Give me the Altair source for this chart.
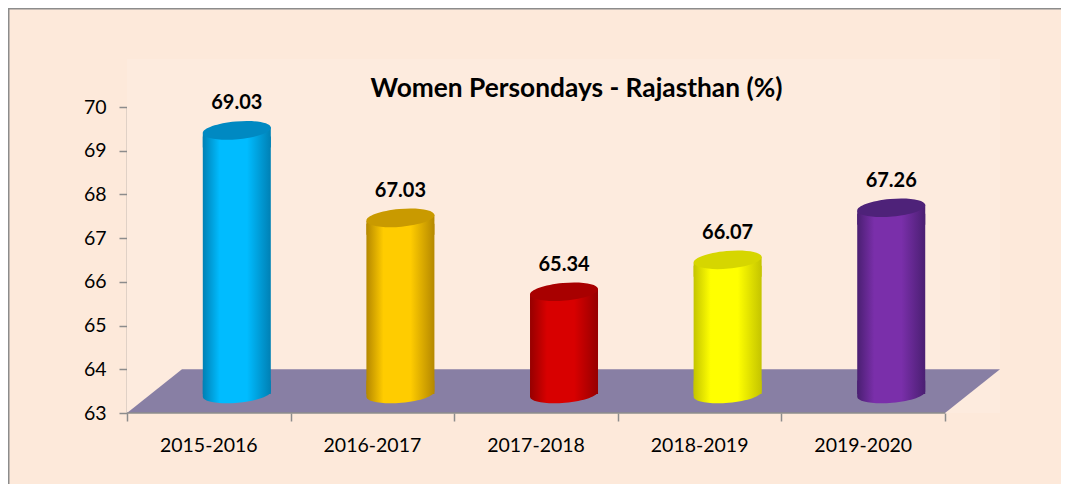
import altair as alt
import pandas as pd

years = ["2015-2016", "2016-2017", "2017-2018", "2018-2019", "2019-2020"]
values = [69.03, 67.03, 65.34, 66.07, 67.26]
positions = [0.5, 1.5, 2.5, 3.5, 4.5]
bright = ["#00BCFF", "#FFCC00", "#D80000", "#FFFF00", "#7A2FAA"]
edge = ["#0080B4", "#B58800", "#960000", "#C4C400", "#4A1F72"]
lid = ["#0089C2", "#C99A00", "#A80000", "#D6D600", "#4E2279"]

y_ticks = [63, 64, 65, 66, 67, 68, 69, 70]
x_ticks = [0, 1, 2, 3, 4, 5]
floor_x = [0, 0.336, 5, 5.336]
floor_top = [63, 64, 64, 64]
floor_bottom = [63, 63, 63, 64]
title_text = "Women Persondays - Rajasthan (%)"

BG = "#FDE9DA"
GREY = "#8C8C8C"
FONT = "Lato"
LID_SHAPE = "M-1,0.09 A1,0.26,-5,1,1,1,-0.09 A1,0.26,-5,1,1,-1,0.09 Z"
SKIRT_SHAPE = "M-1,0.09 L1,-0.09 L1,0.5 L-1,0.5 Z"
BASE_SHAPE = "M-1,-0.4 L-1,0.09 A1,0.26,-5,1,0,1,-0.09 L1,-0.4 Z"
CYL_W = 68
DEPTH_Y = -19
DEPTH_X = 28

xs = alt.Scale(domain=[0, 5.336], nice=False, zero=False, padding=0)
ys = alt.Scale(domain=[63, 70], nice=False, zero=False, padding=0)
x_axis = alt.Axis(values=x_ticks, labels=False, grid=False, domain=False, title=None,
                  tickColor=GREY, tickSize=8, tickWidth=1.5)
y_axis = alt.Axis(values=y_ticks, grid=False, domainColor=GREY, domainWidth=1.5, title=None,
                  tickColor=GREY, tickSize=8, tickWidth=1.5, labelFont=FONT,
                  labelFontSize=19.5, labelColor="#000000", labelPadding=13)
X = alt.X("x:Q", scale=xs, axis=x_axis)
Y = alt.Y("y:Q", scale=ys, axis=y_axis)
Y_BASE = alt.Y("y2:Q", scale=ys, axis=y_axis)


def grad(left, mid, right):
    return alt.LinearGradient(
        gradient="linear", x1=0, x2=1, y1=0, y2=0,
        stops=[
            alt.GradientStop(offset=0, color=left),
            alt.GradientStop(offset=0.25, color=mid),
            alt.GradientStop(offset=0.65, color=mid),
            alt.GradientStop(offset=1, color=right),
        ],
    )


df = pd.DataFrame({"x": positions, "y": values, "year": years})

wall = alt.Chart(pd.DataFrame({"x": [0], "x2": [5.336], "y": [63], "y2": [71.1]})).mark_rect(
    color="#FDEBDE"
).encode(x=X, x2="x2:Q", y=Y, y2="y2:Q")

floor = alt.Chart(pd.DataFrame({"x": floor_x, "y": floor_top, "y2": floor_bottom})).mark_area(
    color="#887FA4", line=False
).encode(x=X, y=Y, y2="y2:Q")

x_line = alt.Chart(pd.DataFrame({"x": [0], "x2": [5], "y": [63]})).mark_rule(
    color=GREY, strokeWidth=1.5
).encode(x=X, x2="x2:Q", y=Y)

cylinders = []
for i in range(len(years)):
    row = df.iloc[[i]].assign(y2=63)
    body_grad = grad(edge[i], bright[i], edge[i])
    point_style = dict(size=CYL_W ** 2, filled=True, opacity=1, strokeWidth=0,
                       xOffset=DEPTH_X, yOffset=DEPTH_Y)
    cylinders.append(
        alt.Chart(row).mark_bar(
            size=CYL_W, orient="vertical", color=body_grad,
            xOffset=DEPTH_X, x2Offset=DEPTH_X, yOffset=DEPTH_Y + 6, y2Offset=DEPTH_Y,
        ).encode(x=X, y=Y, y2="y2:Q")
    )
    cylinders.append(
        alt.Chart(row).mark_point(shape=BASE_SHAPE, fill=body_grad, **point_style).encode(x=X, y=Y_BASE)
    )
    cylinders.append(
        alt.Chart(row).mark_point(shape=SKIRT_SHAPE, fill=body_grad, **point_style).encode(x=X, y=Y)
    )
    cylinders.append(
        alt.Chart(row).mark_point(shape=LID_SHAPE, fill=lid[i], **point_style).encode(x=X, y=Y)
    )

value_labels = alt.Chart(df).mark_text(
    font=FONT, fontSize=20, fontWeight="bold", color="#000000", dy=-46, dx=DEPTH_X
).encode(x=X, y=Y, text=alt.Text("y:Q", format=".2f"))

year_labels = alt.Chart(df.assign(y=63)).mark_text(
    font=FONT, fontSize=19.5, color="#000000", dy=33
).encode(x=X, y=Y, text="year:N")

title = alt.Chart(pd.DataFrame({"t": [title_text]})).mark_text(
    font=FONT, fontSize=26.3, fontWeight="bold", color="#000000", align="center", baseline="middle"
).encode(x=alt.value(449.5), y=alt.value(-18), text="t:N")

frame_top = alt.Chart(pd.DataFrame({"a": [0]})).mark_rule(color=GREY, strokeWidth=3).encode(
    x=alt.value(-119), x2=alt.value(934), y=alt.value(-99)
)
frame_left = alt.Chart(pd.DataFrame({"a": [0]})).mark_rule(color=GREY, strokeWidth=3).encode(
    x=alt.value(-119), y=alt.value(-99), y2=alt.value(377)
)

chart = alt.layer(
    wall, floor, x_line, *cylinders, value_labels, year_labels, title, frame_top, frame_left
).properties(
    width=873,
    height=306,
    background=BG,
    autosize=alt.AutoSizeParams(type="none"),
    padding={"left": 119, "top": 99, "right": 61, "bottom": 71},
).configure_view(stroke=None)

chart.save("out.html", embed_options={"renderer": "svg", "actions": False})
